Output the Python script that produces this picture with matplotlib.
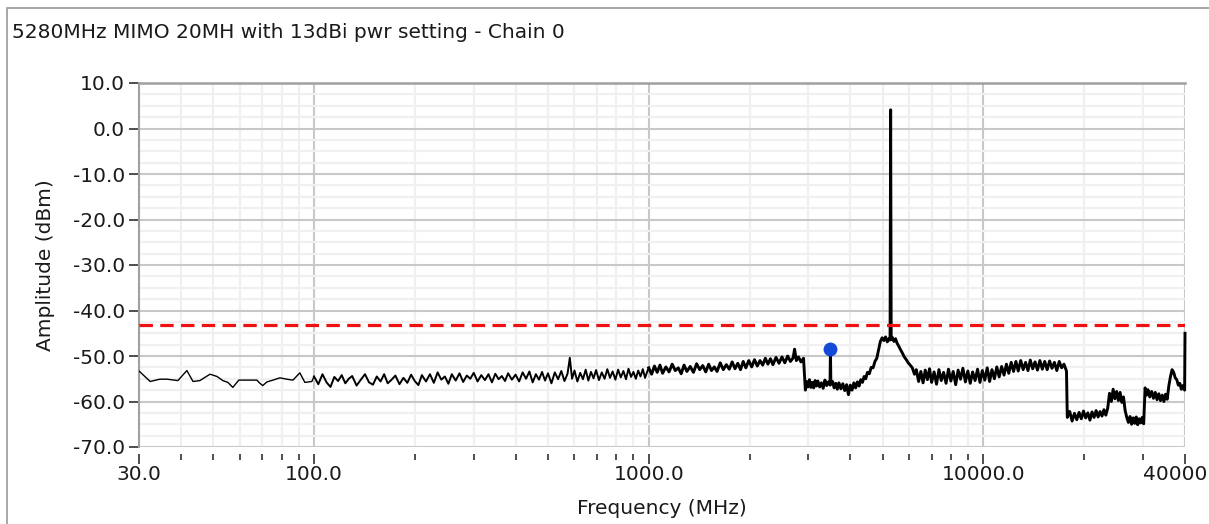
import matplotlib
matplotlib.use("Agg")
import matplotlib.pyplot as plt
from matplotlib.ticker import FixedLocator, FixedFormatter, NullFormatter
from matplotlib.patches import Rectangle

# ---------------- text / ticks ----------------
title = "5280MHz MIMO 20MH with 13dBi pwr setting - Chain 0"
x_label = "Frequency (MHz)"
y_label = "Amplitude (dBm)"
x_ticks = [30, 100, 1000, 10000, 40000]
x_tick_labels = ["30.0", "100.0", "1000.0", "10000.0", "40000.0"]
x_minor_ticks = [40, 50, 60, 70, 80, 90, 200, 300, 400, 500, 600, 700, 800, 900,
                 2000, 3000, 4000, 5000, 6000, 7000, 8000, 9000, 20000, 30000]
y_ticks = [10, 0, -10, -20, -30, -40, -50, -60, -70]
y_tick_labels = ["10.0", "0.0", "-10.0", "-20.0", "-30.0", "-40.0", "-50.0", "-60.0", "-70.0"]
y_minor_ticks = [7.5, 5, 2.5, -2.5, -5, -7.5, -12.5, -15, -17.5, -22.5, -25, -27.5,
                 -32.5, -35, -37.5, -42.5, -45, -47.5, -52.5, -55, -57.5, -62.5, -65, -67.5]

limit_dbm = -43.1
marker_freq = 3490
marker_dbm = -48.5

# ---------------- trace ----------------
freq_a = [30, 32.4, 34.6, 36.4, 39.2, 41.7, 43.5, 45.6, 48.9, 51.3, 53.4, 55.3, 57.2,
          59.6, 67.5, 68.9, 70.3, 72.3, 75.4, 79.1, 83.0, 86.5, 90.7, 93.9, 98.5]
amp_a = [-53.3, -55.6, -55.1, -55.1, -55.4, -53.2, -55.6, -55.4, -54.0, -54.5, -55.4,
         -55.8, -56.9, -55.3, -55.3, -56.0, -56.5, -55.7, -55.3, -54.8, -55.1, -55.3,
         -53.7, -55.8, -55.6]

freq_b = [100, 103, 106, 109, 112, 115, 118, 121, 124, 127, 130, 134, 138, 142, 146, 150,
          154, 158, 162, 166, 170, 175, 180, 185, 190, 195, 200,
          205, 210, 216, 222, 228, 234, 240, 246, 252, 258, 265, 272, 279, 286, 293, 300,
          308, 316, 324, 332, 340, 348, 356, 364, 372, 380, 390, 400,
          410, 420, 430, 440, 450, 460, 470, 480, 490, 500, 512, 524, 536, 548, 560, 572,
          581, 590, 600, 612, 624, 636, 648, 660, 672, 684, 696, 710, 724, 738, 752, 766,
          780, 795, 810, 825, 840, 855, 870, 885, 900, 915, 930, 945, 960, 975, 990]
amp_b = [-54.5, -56.2, -54.0, -55.8, -56.8, -54.6, -55.5, -54.2, -56.0, -55.0, -54.4,
         -56.5, -55.2, -54.0, -55.8, -56.3, -54.5, -55.6, -54.0, -56.0, -55.3, -54.3,
         -56.2, -54.8, -55.9, -54.1, -55.5,
         -56.4, -54.2, -55.6, -54.0, -55.9, -53.6, -55.2, -54.5, -56.1, -54.0, -55.4,
         -53.8, -55.7, -54.3, -55.0, -53.7, -55.6, -54.2, -55.3, -54.0, -55.8, -53.9,
         -55.1, -54.4, -55.5, -53.8, -55.2, -54.1,
         -55.6, -53.6, -55.0, -53.4, -55.8, -54.0, -55.2, -53.5, -55.4, -53.8, -56.0,
         -53.6, -55.1, -53.3, -55.5, -53.9, -50.4, -55.0, -53.2, -55.6, -53.7, -55.1,
         -53.0, -55.4, -53.5, -54.9, -53.1, -55.3, -53.6, -55.0, -52.9, -54.8, -53.4,
         -55.2, -53.0, -54.7, -53.3, -55.1, -52.8, -54.6, -53.5, -55.0, -53.2, -54.5,
         -52.9, -54.8, -53.4]

freq_c = [1000, 1020, 1040, 1060, 1080, 1100, 1125, 1150, 1175, 1200, 1225, 1250, 1275,
          1300, 1330, 1360, 1390, 1420, 1450, 1480, 1510, 1540, 1570, 1600, 1635, 1670,
          1705, 1740, 1775, 1810, 1845, 1880, 1915, 1950, 1990, 2030, 2070, 2110, 2150,
          2190, 2230, 2270, 2310, 2350, 2400, 2450, 2500, 2550, 2600, 2650, 2700, 2727,
          2760, 2800, 2850, 2900]
amp_c = [-52.6, -54.0, -52.2, -53.6, -52.0, -53.8, -52.4, -53.5, -51.8, -53.2, -52.6,
         -53.9, -52.0, -53.4, -52.3, -53.6, -51.7, -53.0, -52.1, -53.5, -51.8, -53.2,
         -52.4, -53.4, -51.5, -53.0, -51.9, -52.9, -51.3, -52.8, -51.6, -53.0, -51.2,
         -52.6, -51.0, -52.4, -50.8, -52.2, -51.0, -52.0, -50.5, -51.8, -50.6, -51.9,
         -50.3, -51.6, -50.2, -51.5, -50.0, -51.2, -50.4, -48.5, -51.0, -50.2, -51.3,
         -50.5]

freq_d = [2937, 2960, 2990, 3020, 3050, 3080, 3110, 3140, 3170, 3200, 3240, 3280, 3320,
          3360, 3400, 3440, 3480, 3490, 3500, 3540, 3580, 3620, 3660, 3700, 3750, 3800,
          3850, 3900, 3950, 4000, 4050, 4100, 4150, 4200, 4250, 4300, 4350, 4400, 4450,
          4500, 4560, 4620, 4680, 4740, 4800, 4860, 4920, 4980, 5040, 5100, 5160, 5220,
          5260, 5280, 5300, 5340, 5400, 5460, 5520, 5580, 5650, 5720, 5800, 5880, 5960,
          6040, 6130, 6220]
amp_d = [-57.5, -55.6, -56.8, -55.2, -56.9, -55.8, -57.0, -55.4, -56.6, -55.5, -56.8,
         -55.9, -57.1, -55.3, -56.5, -55.7, -56.4, -48.7, -56.2, -55.6, -57.0, -56.0,
         -57.3, -55.9, -57.2, -56.1, -57.6, -56.3, -58.5, -56.4, -57.5, -55.9, -57.0,
         -55.7, -56.6, -55.2, -55.8, -54.5, -55.0, -53.6, -53.9, -52.5, -52.6, -51.2,
         -50.5, -48.6, -46.8, -46.0, -46.6, -45.8, -46.9, -46.2, -46.5, 4.1, -46.4,
         -45.9, -46.8, -46.2, -47.2, -47.8, -48.6, -49.3, -50.2, -50.8, -51.5, -52.0,
         -52.6, -54.0]

freq_e = [6300, 6400, 6500, 6600, 6700, 6800, 6900, 7000, 7120, 7240, 7360, 7480, 7600,
          7730, 7860, 7990, 8120, 8260, 8400, 8540, 8680, 8830, 8980, 9130, 9280, 9440,
          9600, 9760, 9920, 10090, 10260, 10430, 10600, 10780, 10960, 11140, 11330,
          11520, 11710, 11900, 12100, 12300, 12500, 12700, 12920, 13140, 13360, 13580,
          13800, 14030, 14260, 14500, 14740, 14990, 15240, 15500, 15760, 16020, 16290,
          16560, 16840, 17120, 17400, 17700]
amp_e = [-53.0, -55.6, -53.4, -55.9, -53.1, -55.2, -52.8, -55.8, -53.5, -56.2, -53.0,
         -55.4, -53.6, -56.0, -52.9, -55.5, -53.4, -56.3, -53.1, -55.1, -52.7, -55.7,
         -53.3, -56.0, -53.5, -55.4, -52.9, -55.8, -53.2, -55.3, -52.6, -55.6, -53.0,
         -55.0, -52.4, -54.6, -52.3, -54.2, -51.8, -53.8, -51.4, -53.4, -51.2, -53.3,
         -51.0, -53.0, -51.4, -53.2, -50.9, -52.8, -51.3, -53.1, -51.0, -52.9, -51.2,
         -53.0, -51.1, -52.7, -51.4, -53.2, -51.2, -52.6, -51.8, -53.3]

freq_f = [17800, 18100, 18400, 18700, 19000, 19300, 19600, 19900, 20200, 20500, 20800,
          21100, 21400, 21700, 22000, 22300, 22600, 22900, 23200, 23500, 23800, 24100,
          24400, 24700, 25000, 25300, 25600, 25900, 26200, 26500, 26800, 27100, 27400,
          27700, 28000, 28300, 28600, 28900, 29200, 29500, 29800, 30100, 30400, 30700,
          31000, 31400, 31800, 32200, 32600, 33000, 33400, 33800, 34200, 34600, 35000,
          35400, 35800, 36200, 36600, 37000, 37400, 37800, 38200, 38600, 39000, 39400,
          39900, 40000]
amp_f = [-63.5, -62.2, -64.3, -62.6, -64.0, -62.4, -63.8, -62.1, -63.6, -62.5, -64.1,
         -62.3, -63.5, -62.0, -63.4, -62.2, -63.2, -61.8, -63.0, -61.5, -58.2, -60.0,
         -57.3, -59.4, -57.8, -59.8, -58.0, -60.2, -59.0, -62.0, -63.5, -64.6, -63.3,
         -65.0, -63.6, -64.8, -63.4, -65.1, -63.8, -64.7, -63.5, -64.9, -57.0, -58.6,
         -57.4, -59.0, -57.8, -59.3, -58.0, -59.6, -58.3, -59.8, -58.6, -60.0, -58.4,
         -59.5, -56.5, -54.5, -53.0, -53.6, -54.8, -55.2, -56.4, -56.0, -57.3, -56.5,
         -57.5, -45.0]

# ---------------- figure ----------------
W, H = 1209, 524
plt.rcParams["font.family"] = ["DejaVu Sans"]
fig = plt.figure(figsize=(W / 100, H / 100), dpi=100)
fig.patch.set_facecolor("white")

# outer panel border (left and top visible)
fig.patches.append(Rectangle((7 / W, -0.1), 1.2, 1 - 8 / H + 0.1, transform=fig.transFigure,
                             fill=False, edgecolor="#9a9a9a", linewidth=1.2))

ax = fig.add_axes([139 / W, 1 - 447 / H, (1185 - 139) / W, (447 - 83) / H])
ax.set_xscale("log")
ax.set_xlim(30, 40000)
ax.set_ylim(-70, 10)

ax.xaxis.set_major_locator(FixedLocator(x_ticks))
ax.xaxis.set_major_formatter(FixedFormatter(x_tick_labels))
ax.xaxis.set_minor_locator(FixedLocator(x_minor_ticks))
ax.xaxis.set_minor_formatter(NullFormatter())
ax.yaxis.set_major_locator(FixedLocator(y_ticks))
ax.yaxis.set_major_formatter(FixedFormatter(y_tick_labels))
ax.yaxis.set_minor_locator(FixedLocator(y_minor_ticks))

ax.grid(which="minor", color="#f0f0f0", linewidth=1.6, zorder=0)
ax.grid(which="major", color="#c8c8c8", linewidth=1.5, zorder=0)
ax.set_axisbelow(True)

ax.spines["right"].set_visible(False)
ax.spines["bottom"].set_position(("outward", 5))
ax.spines["bottom"].set_color("none")
ax.spines["top"].set_color("#a0a0a0")
ax.spines["top"].set_linewidth(1.8)
ax.spines["left"].set_color("#a0a0a0")
ax.spines["left"].set_linewidth(1.5)

fs = 14.5
ax.tick_params(axis="x", which="major", direction="out", length=7, width=1.3,
               color="#404040", labelsize=fs, pad=1, labelcolor="#1a1a1a")
ax.tick_params(axis="x", which="minor", direction="out", length=4.3, width=1.3,
               color="#404040")
ax.tick_params(axis="y", which="major", direction="out", length=7, width=1.3,
               color="#404040", labelsize=fs, pad=3, labelcolor="#1a1a1a")
ax.tick_params(axis="y", which="minor", length=0)

# thin sparse part, medium part, dense part of the trace
ax.plot(freq_a + freq_b[:1], amp_a + amp_b[:1], color="black", linewidth=1.0, zorder=3)
ax.plot(freq_b + freq_c[:1], amp_b + amp_c[:1], color="black", linewidth=1.4, zorder=3)
rest_f = freq_c + freq_d + freq_e + freq_f
rest_a = amp_c + amp_d + amp_e + amp_f
ax.plot(rest_f, rest_a, color="black", linewidth=2.1, zorder=3, clip_on=False)

ax.axhline(limit_dbm, color="#ee1111", linewidth=2.3, dashes=(4.2, 2.3), zorder=4)
ax.plot([marker_freq], [marker_dbm], marker="o", markersize=9, color="#1449d8",
        linestyle="none", zorder=5)

ax.set_xlabel(x_label, fontsize=fs, color="#1a1a1a", labelpad=11)
ax.set_ylabel(y_label, fontsize=fs, color="#1a1a1a", labelpad=13)
fig.text(12 / W, 1 - 32 / H, title, fontsize=fs, color="#1a1a1a", va="center", ha="left")

fig.savefig("out.png", dpi=100, facecolor="white")
